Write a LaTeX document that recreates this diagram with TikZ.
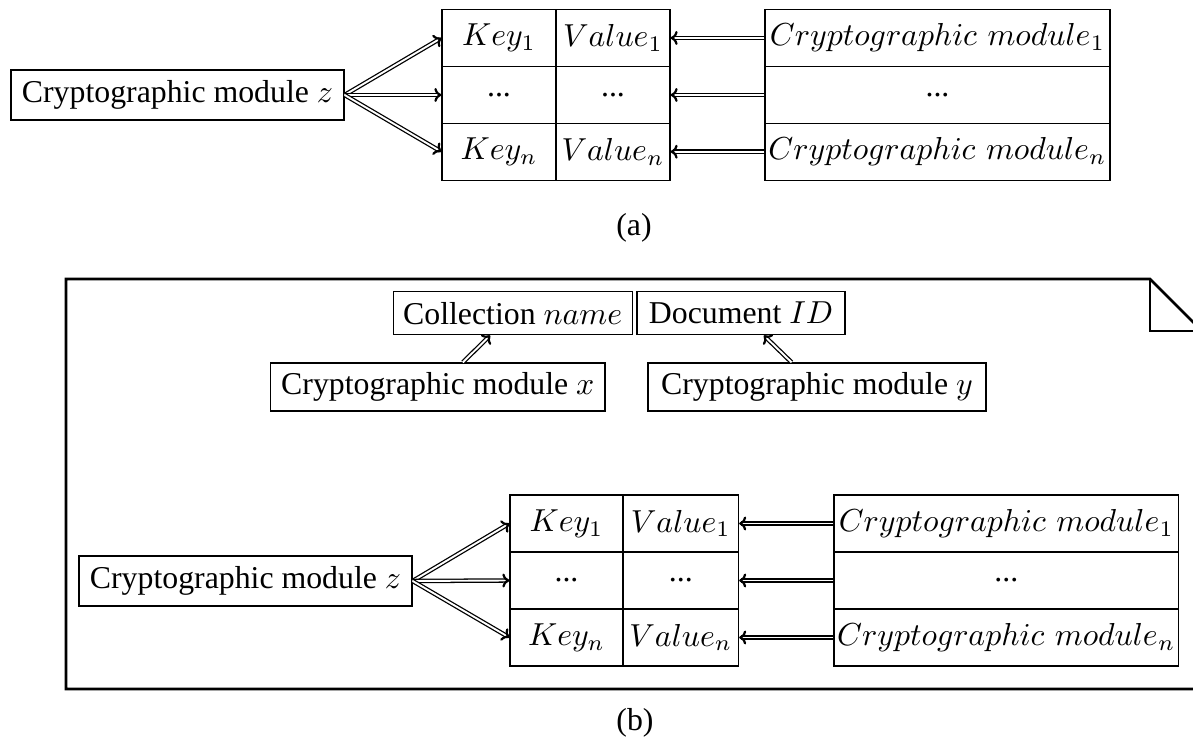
\documentclass[tikz,border=0pt]{standalone}
\usepackage{fontspec}
\setmainfont{Liberation Serif}
\usetikzlibrary{arrows.meta}
\def\s{0.3145pt}
\tikzset{
  box/.style={draw, line width=0.4pt, inner sep=0pt, minimum width=#1*\s, font=\fontsize{10}{12}\selectfont},
  cell/.style={box=#1, minimum height=57*\s},
  dbl/.style={double, double distance=0.6pt, line width=0.4pt, -{To[length=2.2pt,width=4.4pt,line width'=0.7pt]}},
  note/.style={line width=0.8pt},
  lab/.style={font=\fontsize{10}{12}\selectfont, inner sep=0pt}
}
\newcommand\cmod[1]{$Cryptographic\hspace{3.33pt}module_#1$}
\begin{document}
\begin{tikzpicture}[x=\s, y=-\s]
\useasboundingbox (0,0) rectangle (1193,738);
\clip (0,0) rectangle (1193,738);
% ---------- (a) ----------
\node[box=333, minimum height=50*\s] (za) at (177.5,95) {Cryptographic module $z$};
\node[cell=114] (k1a) at (499,38) {$Key_1$};
\node[cell=114] (k2a) at (499,95) {...};
\node[cell=114] (k3a) at (499,151.7) {$Key_n$};
\node[cell=114] (v1a) at (613,38) {$Value_1$};
\node[cell=114] (v2a) at (613,95) {...};
\node[cell=114] (v3a) at (613,151.7) {$Value_n$};
\node[cell=345] (m1a) at (937.5,38) {\cmod{1}};
\node[cell=345] (m2a) at (937.5,95) {...};
\node[cell=345] (m3a) at (937.5,151.7) {\cmod{n}};
\draw[dbl] (za.east) -- (k1a.west);
\draw[dbl] (za.east) -- (k2a.west);
\draw[dbl] (za.east) -- (k3a.west);
\draw[dbl] (m1a.west) -- (v1a.east);
\draw[dbl] (m2a.west) -- (v2a.east);
\draw[dbl] (m3a.west) -- (v3a.east);
\node[lab] (capa) at (634,228) {(a)};
% ---------- (b) ----------
\draw[note] (66,279) -- (1150,279) -- (1202,331) -- (1202,689) -- (66,689) -- cycle;
\draw[note] (1150,279) -- (1150,331) -- (1202,331);
\node[box=239, minimum height=43*\s] (coll) at (512.7,313.3) {Collection $name$};
\node[box=208, minimum height=43*\s] (doc) at (741,313.3) {Document $ID$};
\node[box=334.5, minimum height=48*\s] (mx) at (437.8,387) {Cryptographic module $x$};
\node[box=338, minimum height=48*\s] (my) at (817,387) {Cryptographic module $y$};
\draw[dbl] (mx) -- (coll);
\draw[dbl] (my) -- (doc);
\node[box=333, minimum height=50*\s] (zb) at (245.5,581) {Cryptographic module $z$};
\node[cell=113] (k1b) at (566.5,523.5) {$Key_1$};
\node[cell=113] (k2b) at (566.5,580.5) {...};
\node[cell=113] (k3b) at (566.5,637.5) {$Key_n$};
\node[cell=115.5] (v1b) at (680.8,523.5) {$Value_1$};
\node[cell=115.5] (v2b) at (680.8,580.5) {...};
\node[cell=115.5] (v3b) at (680.8,637.5) {$Value_n$};
\node[cell=344.6] (m1b) at (1006.3,523.5) {\cmod{1}};
\node[cell=344.6] (m2b) at (1006.3,580.5) {...};
\node[cell=344.6] (m3b) at (1006.3,637.5) {\cmod{n}};
\draw[dbl] (zb.east) -- (k1b.west);
\draw[dbl] (zb.east) -- (k2b.west);
\draw[dbl] (zb.east) -- (k3b.west);
\draw[dbl] (m1b.west) -- (v1b.east);
\draw[dbl] (m2b.west) -- (v2b.east);
\draw[dbl] (m3b.west) -- (v3b.east);
\node[lab] (capb) at (635,723) {(b)};
\end{tikzpicture}
\end{document}
